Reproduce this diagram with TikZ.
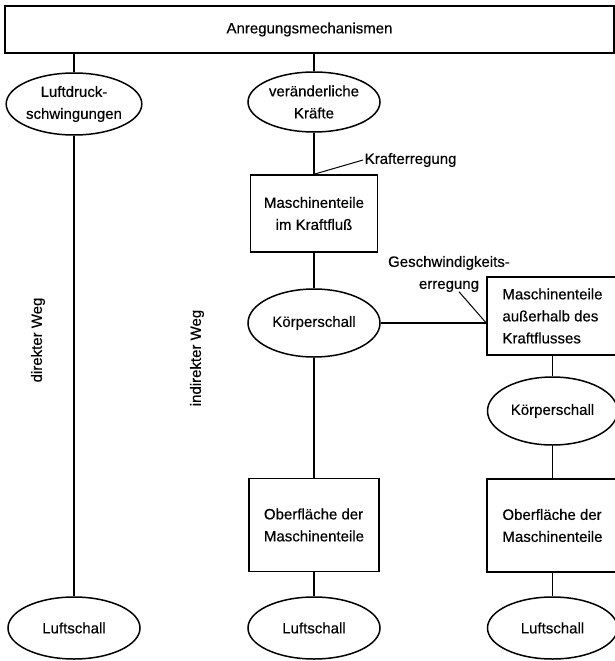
\documentclass[tikz,border=0pt]{standalone}
\usepackage{fontspec}
\setmainfont{Liberation Sans}[FakeBold=0.4]
\usetikzlibrary{shapes.geometric}
\tikzset{
  oval/.style={draw, ellipse, inner sep=0pt, align=center, minimum width=132, minimum height=62},
  kasten/.style={draw, rectangle, inner sep=0pt, align=center, minimum width=130, minimum height=78},
  marke/.style={inner sep=1pt, align=center}
}

\begin{document}
\begin{tikzpicture}[x=1pt, y=-1pt, line width=1.5pt, font=\fontsize{15}{22}\selectfont]
  \useasboundingbox (0,0) rectangle (614,661);
  \node[kasten, minimum width=609, minimum height=47] (anreg) at (309.5,29.5) {Anregungsmechanismen};
  % erste Reihe
  \node[oval] (luftdruck) at (74,104) {Luftdruck-\\schwingungen};
  \node[oval, minimum height=60] (kraefte) at (314,102) {ver\"anderliche\\Kr\"afte};
  % mittlere Spalte
  \node[kasten, minimum width=127, minimum height=77] (kraftfluss) at (314,213.5) {Maschinenteile\\im Kraftflu\ss};
  \node[oval, minimum height=68] (koerperM) at (314,323) {K\"orperschall};
  \node[kasten, minimum height=93, align=left] (oberM) at (314,525) {Oberfl\"ache der\\Maschinenteile};
  \node[oval] (luftM) at (314,628) {Luftschall};
  % rechte Spalte
  \node[kasten, minimum width=131, align=left] (ausserhalb) at (552.5,316) {Maschinenteile\\au\ss erhalb des\\Kraftflusses};
  \node[oval, minimum width=130, minimum height=68] (koerperR) at (552.5,411) {K\"orperschall};
  \node[kasten, minimum width=131, minimum height=93, align=left] (oberR) at (552.5,525.5) {Oberfl\"ache der\\Maschinenteile};
  \node[oval, minimum width=130] (luftR) at (552.5,628) {Luftschall};
  % linke Spalte
  \node[oval] (luftL) at (74,628) {Luftschall};
  % Beschriftungen
  \node[marke, anchor=west] (krafterr) at (363,160) {Krafterregung};
  \node[marke] (geschw) at (449,274) {Geschwindigkeits-\\erregung};
  \node[marke, rotate=90] (direkt) at (38,340) {direkter Weg};
  \node[marke, rotate=90] (indirekt) at (197,358) {indirekter Weg};

  \path
  (anreg.south -| luftdruck) edge (luftdruck)
  (anreg.south -| kraefte) edge (kraefte)
  (luftdruck) edge (luftL)
  (kraefte) edge (kraftfluss)
  (kraftfluss) edge (koerperM)
  (koerperM) edge (koerperM -| ausserhalb.west)
  (koerperM) edge (oberM)
  (oberM) edge (luftM)
  (ausserhalb) edge (koerperR)
  (koerperR) edge (oberR)
  (oberR) edge (luftR);
  % Hinweislinien
  \path[line width=1pt]
  (kraftfluss.north) edge (krafterr.west)
  (geschw.south) ++(10,-2) coordinate (g) (g) edge (koerperM -| ausserhalb.west);
\end{tikzpicture}
\end{document}
